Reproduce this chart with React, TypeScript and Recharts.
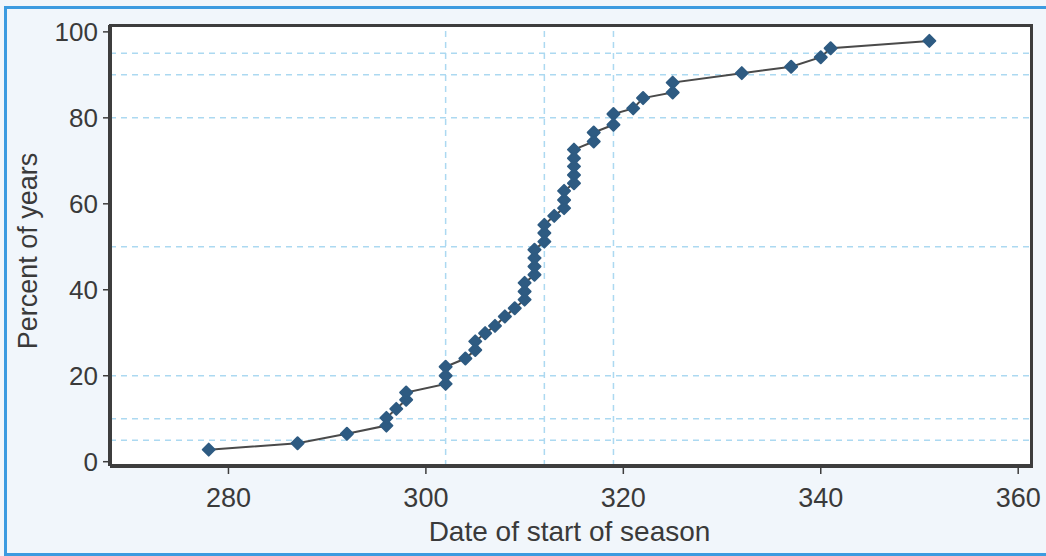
import React from "react";
import {
  LineChart,
  Line,
  XAxis,
  YAxis,
  CartesianGrid,
  ReferenceLine,
} from "recharts";

// start date of season (day of year) for each year, sorted
const startDays = [
  278, 287, 292, 296, 296, 297, 298, 298, 302, 302,
  302, 304, 305, 305, 306, 307, 308, 309, 310, 310,
  310, 311, 311, 311, 311, 312, 312, 312, 313, 314,
  314, 314, 315, 315, 315, 315, 315, 317, 317, 319,
  319, 321, 322, 325, 325, 332, 337, 340, 341, 351,
];

// cumulative percent of years
const percentYears = [
  2.8, 4.3, 6.5, 8.4, 10.2, 12.3, 14.4, 16.1, 18.1, 20.0,
  22.1, 24.0, 26.0, 28.0, 29.9, 31.6, 33.8, 35.7, 37.7, 39.6,
  41.6, 43.5, 45.4, 47.4, 49.3, 51.2, 53.2, 55.1, 57.2, 59.0,
  60.9, 63.0, 64.8, 66.7, 68.7, 70.6, 72.6, 74.5, 76.6, 78.4,
  80.9, 82.2, 84.6, 85.9, 88.2, 90.4, 91.9, 94.1, 96.2, 97.9,
];

const xTicks = [280, 300, 320, 340, 360];
const yTicks = [0, 20, 40, 60, 80, 100];
const guideDays = [302, 312, 319];
const guidePercents = [5, 10, 20, 50, 80, 90, 95];

const xDomain: [number, number] = [268, 361.5];
const yDomain: [number, number] = [-1, 101.6];

const data = startDays.map((day, i) => ({ day, pct: percentYears[i] }));

const textColor = "#3a3a3a";
const frameColor = "#3d3d3d";
const guideColor = "#acd9f1";
const fontFamily = "Arial, 'Liberation Sans', sans-serif";

const margin = { top: 25, right: 13, left: 0, bottom: 0 };
const yAxisWidth = 110;
const xAxisHeight = 90;

const Diamond = (props: any) => {
  const { cx, cy } = props;
  if (cx == null || cy == null) return null;
  const r = 6;
  return (
    <polygon
      points={`${cx},${cy - r} ${cx + r},${cy} ${cx},${cy + r} ${cx - r},${cy}`}
      fill="#2e5b82"
      stroke="#2e5b82"
      strokeWidth={2}
      strokeLinejoin="round"
    />
  );
};

const App: React.FC = () => {
  return (
    <div
      style={{
        position: "fixed",
        left: 0,
        top: 0,
        width: 1046,
        height: 556,
        background: "#f1f6fb",
        fontFamily,
      }}
    >
      <div
        style={{
          position: "absolute",
          left: 4,
          top: 6,
          width: 1060,
          height: 544,
          borderTop: "3px solid #3c9be0",
          borderLeft: "3px solid #3c9be0",
          borderBottom: "3px solid #3c9be0",
        }}
      />
      <div style={{ position: "absolute", left: 0, top: 0 }}>
        <LineChart
          width={1046}
          height={556}
          data={data}
          margin={margin}
        >
          <CartesianGrid fill="#ffffff" horizontal={false} vertical={false} />
          {guidePercents.map((p) => (
            <ReferenceLine
              key={`h${p}`}
              y={p}
              stroke={guideColor}
              strokeWidth={1.5}
              strokeDasharray="6 5"
            />
          ))}
          {guideDays.map((d) => (
            <ReferenceLine
              key={`v${d}`}
              x={d}
              stroke={guideColor}
              strokeWidth={1.5}
              strokeDasharray="6 5"
            />
          ))}
          <XAxis
            dataKey="day"
            type="number"
            domain={xDomain}
            ticks={xTicks}
            height={xAxisHeight}
            tickSize={8}
            tickMargin={14}
            axisLine={{ stroke: frameColor, strokeWidth: 4 }}
            tickLine={{ stroke: frameColor, strokeWidth: 1.5 }}
            tick={{ fill: textColor, fontSize: 27, fontFamily }}
            label={{
              content: ({ viewBox }: any) => (
                <text
                  x={viewBox.x + viewBox.width / 2 - 2}
                  y={541}
                  textAnchor="middle"
                  fill={textColor}
                  fontSize={28}
                  fontFamily={fontFamily}
                >
                  Date of start of season
                </text>
              ),
            }}
          />
          <YAxis
            type="number"
            domain={yDomain}
            ticks={yTicks}
            width={yAxisWidth}
            tickSize={7}
            tickMargin={5}
            axisLine={{ stroke: frameColor, strokeWidth: 4 }}
            tickLine={{ stroke: frameColor, strokeWidth: 1.5 }}
            tick={{ fill: textColor, fontSize: 26, fontFamily }}
            label={{
              content: () => (
                <text
                  x={0}
                  y={0}
                  transform="translate(37, 251) rotate(-90)"
                  textAnchor="middle"
                  fill={textColor}
                  fontSize={27}
                  fontFamily={fontFamily}
                >
                  Percent of years
                </text>
              ),
            }}
          />
          <Line
            type="linear"
            dataKey="pct"
            stroke="#4a4a4a"
            strokeWidth={2}
            dot={<Diamond />}
            activeDot={false}
            isAnimationActive={false}
          />
        </LineChart>
      </div>
      {/* top and right edges of the plot frame */}
      <div
        style={{
          position: "absolute",
          left: yAxisWidth - 1,
          top: margin.top - 1.5,
          width: 1046 - margin.right - yAxisWidth + 1,
          height: 556 - margin.top - xAxisHeight,
          borderTop: `3px solid ${frameColor}`,
          borderRight: `3px solid ${frameColor}`,
          boxSizing: "border-box",
          pointerEvents: "none",
        }}
      />
    </div>
  );
};

export default App;
